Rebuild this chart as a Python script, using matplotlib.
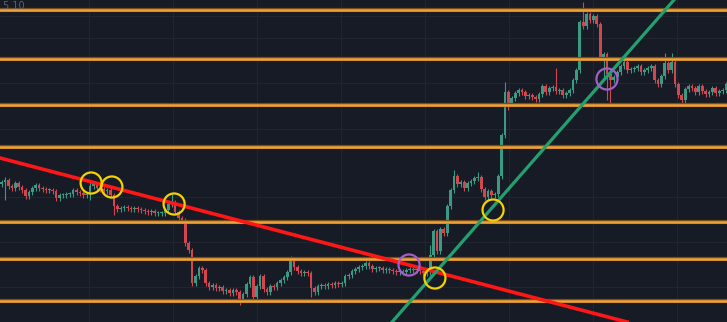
import numpy as np
import matplotlib
matplotlib.use("Agg")
import matplotlib.pyplot as plt

# closing prices, one per candle (arbitrary price units)
closes = [
    140, 142, 136, 134, 139, 135, 132, 126, 130, 134,
    137, 134, 133, 132, 132, 131, 124, 127, 127, 128,
    128, 132, 130, 129, 127, 127, 136, 138, 134, 133,
    131, 132, 127, 116, 113, 114, 115, 114, 113, 114,
    113, 112, 111, 110, 111, 109, 109, 109, 112, 118,
    120, 110, 104, 102, 79, 72, 39, 46, 54, 52,
    39, 35, 37, 34, 35, 31, 32, 29, 32, 30,
    23, 28, 38, 45, 25, 36, 46, 33, 30, 36,
    35, 39, 42, 45, 50, 62, 55, 51, 49, 50,
    49, 34, 30, 36, 37, 36, 38, 37, 39, 38,
    39, 46, 47, 51, 53, 55, 56, 59, 56, 53,
    54, 54, 52, 53, 52, 51, 50, 51, 50, 52,
    53, 52, 52, 51, 49, 50, 67, 91, 71, 93,
    89, 116, 132, 146, 138, 140, 134, 139, 141, 144,
    145, 133, 125, 131, 127, 128, 146, 187, 230, 219,
    224, 229, 232, 230, 226, 227, 225, 223, 228, 236,
    230, 234, 235, 231, 232, 227, 229, 232, 242, 252,
    300, 296, 308, 302, 306, 298, 265, 268, 248, 242,
    245, 250, 256, 260, 252, 253, 254, 256, 250, 252,
    254, 256, 242, 238, 246, 259, 252, 260, 238, 227,
    222, 233, 236, 234, 230, 236, 231, 228, 230, 234,
    229, 231, 232, 238,
]
first_open = 138

# long wicks (candle index -> extreme price)
highs = {1: 145, 26: 142, 50: 128, 85: 66, 126: 77, 133: 152, 140: 150,
         148: 240, 163: 254, 171: 320, 178: 270, 195: 269, 197: 269}
lows = {1: 122, 26: 122, 33: 107, 70: 17, 74: 20, 91: 25, 149: 212,
        177: 242, 178: 222, 179: 216, 200: 217}

levels = [312, 263, 217, 175, 100, 63, 21]          # horizontal levels
red_trend = [(-0.5, 164), (183.9, 0)]
green_trend = [(114.8, 0), (197.7, 322)]
yellow_marks = [(26.3, 139), (32.4, 135), (50.7, 118), (127.4, 44), (144.5, 112)]
purple_marks = [(119.8, 57), (178.0, 243)]
grid_x = [25.7, 50.4, 75.1, 99.8, 124.5, 149.2, 173.9, 198.6]
grid_y = [306, 284, 239, 193, 125, 80, 35]

bg = "#171b26"
up_col = "#3a9a82"
dn_col = "#d1464f"

fig = plt.figure(figsize=(7.27, 3.22), dpi=100, facecolor=bg)
ax = fig.add_axes([0, 0, 1, 1], facecolor=bg)

for gx in grid_x:
    ax.axvline(gx, color="#212530", lw=0.8, zorder=0)
for gy in grid_y:
    ax.axhline(gy, color="#212530", lw=0.8, zorder=0)

closes = np.array(closes, dtype=float)
opens = np.concatenate([[first_open], closes[:-1]])
idx = np.arange(len(closes))
top = np.maximum(opens, closes)
bot = np.minimum(opens, closes)
hi = np.array([highs.get(i, t + 2.5) for i, t in enumerate(top)])
lo = np.array([lows.get(i, b - 2.5) for i, b in enumerate(bot)])
cols = np.where(closes >= opens, up_col, dn_col)

ax.vlines(idx, lo, hi, colors=cols, lw=0.8, zorder=2)
ax.bar(idx, np.maximum(top - bot, 1.2), bottom=bot, width=0.8,
       color=cols, linewidth=0, zorder=3)

for lv in levels:
    ax.axhline(lv, color="#7a4e14", lw=3.0, zorder=4)
    ax.axhline(lv, color="#f0a23a", lw=1.8, zorder=4)

ax.axline(*red_trend, color="#ff1616", lw=2.6, zorder=5)
ax.axline(*green_trend, color="#23a06f", lw=2.3, zorder=5)

yx, yy = zip(*yellow_marks)
ax.scatter(yx, yy, s=230, facecolors="none", edgecolors="#f2d200",
           linewidths=1.6, zorder=6)
px, py = zip(*purple_marks)
ax.scatter(px, py, s=230, facecolors="none", edgecolors="#a45ec9",
           linewidths=1.6, zorder=6)

fig.text(0.004, 0.998, "5 10", color="#5d606b", fontsize=7, va="top")

ax.set_xlim(-0.5, 213.3)
ax.set_ylim(0, 322)
ax.axis("off")

fig.savefig("out.png", dpi=100, facecolor=bg)
